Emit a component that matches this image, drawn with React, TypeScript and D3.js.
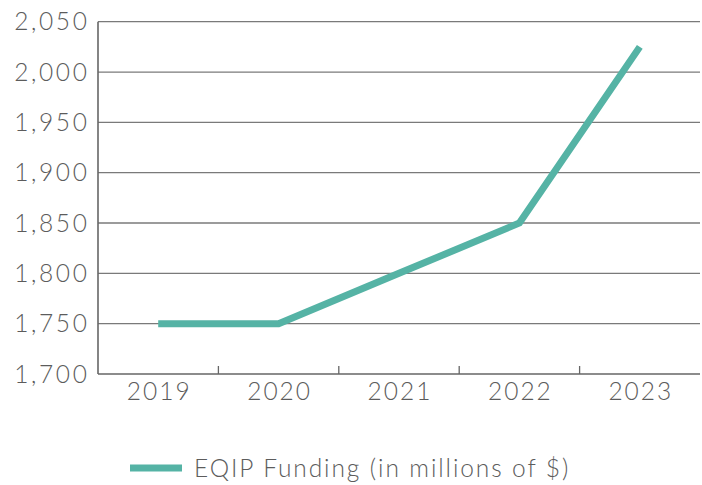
import React from "react";
import * as d3 from "d3";

const years = ["2019", "2020", "2021", "2022", "2023"];
const funding = [1750, 1750, 1800, 1850, 2025];
const yTicks = [1700, 1750, 1800, 1850, 1900, 1950, 2000, 2050];
const seriesName = "EQIP Funding (in millions of $)";

const W = 702, H = 485;
const M = { left: 98, right: 2, top: 21.7, bottom: 111 };
const TEAL = "#55b3a5";
const TEXT = "#5c5c5c";
const FONT = "Lato, 'Noto Sans', sans-serif";

export default function App() {
  const x = d3.scaleBand().domain(years).range([M.left, W - M.right]);
  const y = d3.scaleLinear().domain([1700, 2050]).range([H - M.bottom, M.top]);
  const line = d3
    .line<number>()
    .x((_, i) => (x(years[i]) as number) + x.bandwidth() / 2)
    .y((d) => y(d));
  const bottom = y(1700);
  const boundaries = years.slice(1).map((yr) => x(yr) as number);
  return (
    <svg width={W} height={H} style={{ position: "absolute", left: 0, top: 0 }}>
      <rect width={W} height={H} fill="#fff" />
      {yTicks.map((t) => (
        <g key={t}>
          {t !== 1700 && (
            <line x1={M.left} x2={W - M.right} y1={y(t)} y2={y(t)} stroke="#7a7a7a" strokeWidth={1.3} />
          )}
          <text
            x={89.5}
            y={y(t) + 8.5}
            textAnchor="end"
            fontFamily={FONT}
            fontWeight={300}
            fontSize={24.5}
            letterSpacing={2.6}
            fill={TEXT}
          >
            {d3.format(",")(t)}
          </text>
        </g>
      ))}
      <line x1={M.left} x2={M.left} y1={M.top} y2={bottom} stroke="#666" strokeWidth={1.6} />
      <line x1={M.left} x2={W - M.right} y1={bottom} y2={bottom} stroke="#666" strokeWidth={1.6} />
      {boundaries.map((bx, i) => (
        <line key={i} x1={bx} x2={bx} y1={bottom} y2={bottom - 8} stroke="#666" strokeWidth={1.3} />
      ))}
      {years.map((yr) => (
        <text
          key={yr}
          x={(x(yr) as number) + x.bandwidth() / 2 + 1}
          y={bottom + 26}
          textAnchor="middle"
          fontFamily={FONT}
          fontWeight={300}
          fontSize={24.5}
          letterSpacing={2}
          fill={TEXT}
        >
          {yr}
        </text>
      ))}
      <path d={line(funding) as string} fill="none" stroke={TEAL} strokeWidth={7} strokeLinejoin="miter" />
      <line x1={130} x2={182} y1={468} y2={468} stroke={TEAL} strokeWidth={7} />
      <text x={194} y={476.5} fontFamily={FONT} fontWeight={300} fontSize={24.5} letterSpacing={1.9} fill={TEXT}>
        {seriesName}
      </text>
    </svg>
  );
}
